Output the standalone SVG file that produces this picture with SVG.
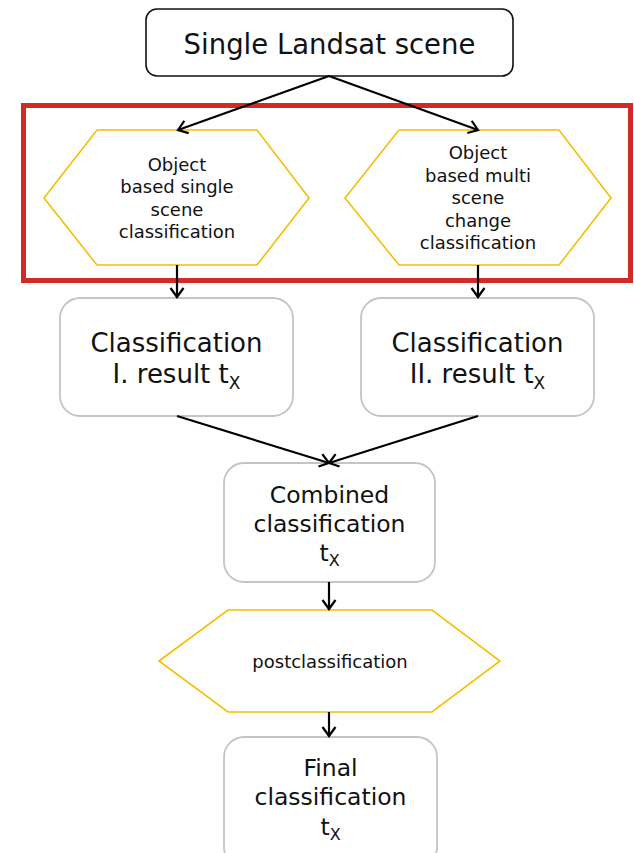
<svg xmlns="http://www.w3.org/2000/svg" width="634" height="853" viewBox="0 0 634 853">
<style>
text{font-family:"DejaVu Sans",Verdana,sans-serif;fill:#111;text-anchor:middle}
.hex{fill:#fff;stroke:#f5bf00;stroke-width:1.6}
.gbox{fill:#fff;stroke:#c4c4c4;stroke-width:1.8}
.conn{stroke:#000;stroke-width:2.2;fill:none;marker-end:url(#ah)}
.s18{font-size:18px}
.s26{font-size:26px}
.s235{font-size:23.5px}
</style>
<defs>
<marker id="ah" viewBox="0 0 16 16" refX="13" refY="8" markerWidth="16" markerHeight="16" markerUnits="userSpaceOnUse" orient="auto">
<path d="M4,1.5 L13,8 L4,14.5" fill="none" stroke="#000" stroke-width="2.2"/>
</marker>
</defs>
<rect width="634" height="853" fill="#fff"/>
<g id="highlight">
<rect x="23.5" y="105.5" width="607" height="175" fill="none" stroke="#d22b27" stroke-width="5"/>
</g>
<g id="n-landsat">
<rect x="146" y="9" width="367" height="67" rx="11" fill="#fff" stroke="#111" stroke-width="1.6"/>
<text x="329.5" y="54" style="font-size:27.5px">Single Landsat scene</text>
</g>
<g id="n-obj-single">
<polygon class="hex" points="44,198 97,130 257,130 309,198 257,265 97,265"/>
<text class="s18" x="177" y="171">Object</text>
<text class="s18" x="177" y="193">based single</text>
<text class="s18" x="177" y="215.5">scene</text>
<text class="s18" x="177" y="238">classification</text>
</g>
<g id="n-obj-multi">
<polygon class="hex" points="345,198 399,130 559,130 611,198 559,265 399,265"/>
<text class="s18" x="478" y="159">Object</text>
<text class="s18" x="478" y="181.5">based multi</text>
<text class="s18" x="478" y="204">scene</text>
<text class="s18" x="478" y="226.5">change</text>
<text class="s18" x="478" y="249">classification</text>
</g>
<g id="n-class1">
<rect class="gbox" x="60" y="298" width="233" height="118" rx="20"/>
<text class="s26" x="176.5" y="352">Classification</text>
<text class="s26" x="176.5" y="383">I. result t<tspan style="font-size:17px" dy="6">X</tspan></text>
</g>
<g id="n-class2">
<rect class="gbox" x="361" y="298" width="233" height="118" rx="20"/>
<text class="s26" x="477.5" y="352">Classification</text>
<text class="s26" x="477.5" y="383">II. result t<tspan style="font-size:17px" dy="6">X</tspan></text>
</g>
<g id="n-combined">
<rect class="gbox" x="224" y="463" width="211" height="119" rx="20"/>
<text class="s235" x="329.5" y="503">Combined</text>
<text class="s235" x="329.5" y="532">classification</text>
<text class="s235" x="329.5" y="561">t<tspan style="font-size:16px" dy="5">X</tspan></text>
</g>
<g id="n-post">
<polygon class="hex" points="159,661 228,610 432,610 500,661 432,712 228,712"/>
<text class="s18" x="330" y="668">postclassification</text>
</g>
<g id="n-final">
<rect class="gbox" x="224" y="737" width="213" height="130" rx="20"/>
<text class="s235" x="330.5" y="776">Final</text>
<text class="s235" x="330.5" y="805">classification</text>
<text class="s235" x="330.5" y="835">t<tspan style="font-size:16px" dy="5">X</tspan></text>
</g>
<g id="connectors">
<line class="conn" x1="329" y1="76" x2="178" y2="130"/>
<line class="conn" x1="329" y1="76" x2="478" y2="130"/>
<line class="conn" x1="177" y1="265" x2="177" y2="297"/>
<line class="conn" x1="478" y1="265" x2="478" y2="297"/>
<line class="conn" x1="177" y1="416" x2="329" y2="463"/>
<line class="conn" x1="478" y1="416" x2="329" y2="463"/>
<line class="conn" x1="329" y1="582" x2="329" y2="609"/>
<line class="conn" x1="329" y1="712" x2="329" y2="736"/>
</g>
</svg>
